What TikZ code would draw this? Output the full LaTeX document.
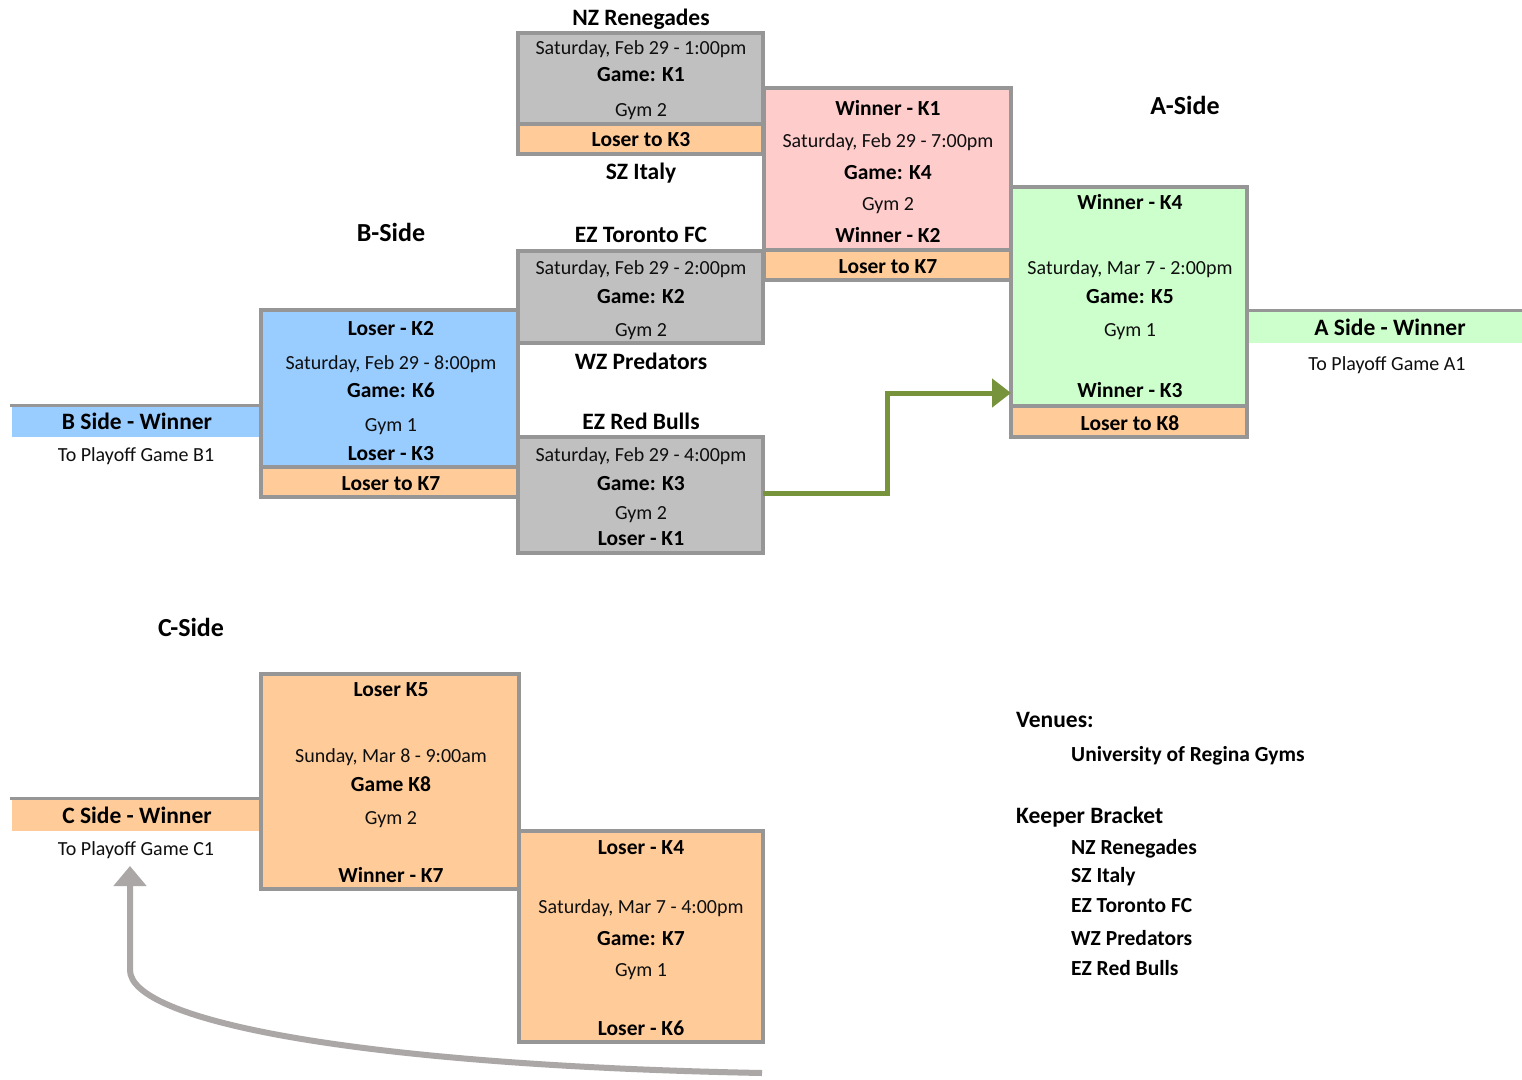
\documentclass[tikz,border=0pt]{standalone}
\usepackage{fontspec}
\setmainfont{Carlito}
\usetikzlibrary{arrows.meta}
\definecolor{bgray}{RGB}{150,150,150}
\definecolor{boxgray}{RGB}{192,192,192}
\definecolor{boxpink}{RGB}{255,204,204}
\definecolor{boxgreen}{RGB}{204,255,204}
\definecolor{boxblue}{RGB}{153,204,255}
\definecolor{boxorange}{RGB}{255,204,153}
\definecolor{arrowgreen}{RGB}{119,147,60}
\definecolor{arrowgray}{RGB}{171,167,167}
\definecolor{txt}{RGB}{15,15,15}
\tikzset{
  box/.style={draw=bgray, line width=3.5pt, anchor=north west, inner sep=0pt, outer sep=0pt},
  strip/.style={anchor=north west, inner sep=0pt, outer sep=0pt},
  sepline/.style={draw=bgray, line width=3.5pt},
  tx/.style={inner sep=0pt, text height=0.66em, text depth=0pt, yshift=-4pt},
  rg/.style={tx, font=\fontsize{20}{22}\selectfont, text=txt},
  bd/.style={tx, font=\fontsize{21.5}{24}\selectfont\bfseries, text=black},
  ttl/.style={tx, font=\fontsize{23.5}{26}\selectfont\bfseries, text=black},
  sidelbl/.style={tx, font=\fontsize{26}{30}\selectfont\bfseries, text=black},
  greenarrow/.style={draw=arrowgreen, line width=5pt, -{Triangle[length=19pt,width=28pt]}},
  grayarrow/.style={draw=arrowgray, line width=6pt, -{Triangle[length=20pt,width=32pt]}},
}
\begin{document}
\begin{tikzpicture}[x=1pt,y=-1pt]
\useasboundingbox[fill=white] (0,0) rectangle (1522,1079);

% ---- winner strips ----
\node[strip, fill=boxblue, minimum width=247pt, minimum height=30pt] (bwin) at (12,407) {};
\node[strip, fill=boxgreen, minimum width=273pt, minimum height=31pt] (awin) at (1249,312) {};
\node[strip, fill=boxorange, minimum width=247pt, minimum height=31pt] (cwin) at (12,800) {};

% ---- boxes ----
\node[box, fill=boxgray, minimum width=245pt, minimum height=91pt] (k1) at (518,33) {};
\node[box, fill=boxorange, minimum width=245pt, minimum height=30pt] (k1l) at (518,124) {};
\node[box, fill=boxpink, minimum width=247pt, minimum height=162pt] (k4) at (764,88) {};
\node[box, fill=boxorange, minimum width=247pt, minimum height=30pt] (k4l) at (764,250) {};
\node[box, fill=boxgray, minimum width=245pt, minimum height=92pt] (k2) at (518,251) {};
\node[box, fill=boxblue, minimum width=257pt, minimum height=157pt] (k6) at (261,310) {};
\node[box, fill=boxorange, minimum width=257pt, minimum height=30pt] (k6l) at (261,467) {};
\node[box, fill=boxgray, minimum width=245pt, minimum height=116pt] (k3) at (518,437) {};
\node[box, fill=boxgreen, minimum width=236pt, minimum height=219pt] (k5) at (1011,187) {};
\node[box, fill=boxorange, minimum width=236pt, minimum height=31pt] (k5l) at (1011,406) {};
\node[box, fill=boxorange, minimum width=258pt, minimum height=215pt] (k8) at (261,674) {};
\node[box, fill=boxorange, minimum width=244pt, minimum height=211pt] (k7) at (519,831) {};

% ---- strip top lines ----
\draw[sepline] ([xshift=-2pt,yshift=1.5pt]bwin.north west) -- ([yshift=1.5pt]bwin.north east -| k6.west);
\draw[sepline] ([yshift=1.5pt]awin.north west -| k5.east) -- ([yshift=1.5pt]awin.north east);
\draw[sepline] ([xshift=-2pt,yshift=1.5pt]cwin.north west) -- ([yshift=1.5pt]cwin.north east -| k8.west);

% ---- headings ----
\node[sidelbl] (aside) at (1185,107) {A-Side};
\node[sidelbl] (bside) at (391,234) {B-Side};
\node[sidelbl] (cside) at (191,629) {C-Side};
\node[ttl] (team1) at (641,18) {NZ Renegades};
\node[ttl] (team2) at (641,172) {SZ Italy};
\node[ttl] (team3) at (641,235) {EZ Toronto FC};
\node[ttl] (team4) at (641,362) {WZ Predators};
\node[ttl] (team5) at (641,422) {EZ Red Bulls};

% ---- K1 ----
\node[rg] (k1a) at (641,47) {Saturday, Feb 29 - 1:00pm};
\node[bd] (k1b) at (641,74) {Game: K1};
\node[rg] (k1c) at (641,109) {Gym 2};
\node[bd] (k1d) at (641,139) {Loser to K3};
% ---- K4 ----
\node[bd] (k4a) at (888,108) {Winner - K1};
\node[rg] (k4b) at (888,140) {Saturday, Feb 29 - 7:00pm};
\node[bd] (k4c) at (888,172) {Game: K4};
\node[rg] (k4d) at (888,203) {Gym 2};
\node[bd] (k4e) at (888,235) {Winner - K2};
\node[bd] (k4f) at (888,266) {Loser to K7};
% ---- K2 ----
\node[rg] (k2a) at (641,267) {Saturday, Feb 29 - 2:00pm};
\node[bd] (k2b) at (641,296) {Game: K2};
\node[rg] (k2c) at (641,329) {Gym 2};
% ---- K6 ----
\node[bd] (k6a) at (391,328) {Loser - K2};
\node[rg] (k6b) at (391,362) {Saturday, Feb 29 - 8:00pm};
\node[bd] (k6c) at (391,390) {Game: K6};
\node[rg] (k6d) at (391,424) {Gym 1};
\node[bd] (k6e) at (391,453) {Loser - K3};
\node[bd] (k6f) at (391,483) {Loser to K7};
% ---- B side ----
\node[ttl] (bw1) at (137,422) {B Side - Winner};
\node[rg] (bw2) at (136,454) {To Playoff Game B1};
% ---- K3 ----
\node[rg] (k3a) at (641,454) {Saturday, Feb 29 - 4:00pm};
\node[bd] (k3b) at (641,483) {Game: K3};
\node[rg] (k3c) at (641,512) {Gym 2};
\node[bd] (k3d) at (641,538) {Loser - K1};
% ---- K5 ----
\node[bd] (k5a) at (1130,202) {Winner - K4};
\node[rg] (k5b) at (1130,267) {Saturday, Mar 7 - 2:00pm};
\node[bd] (k5c) at (1130,296) {Game: K5};
\node[rg] (k5d) at (1130,329) {Gym 1};
\node[bd] (k5e) at (1130,390) {Winner - K3};
\node[bd] (k5f) at (1130,423) {Loser to K8};
% ---- A side ----
\node[ttl] (aw1) at (1390,328) {A Side - Winner};
\node[rg] (aw2) at (1387,363) {To Playoff Game A1};
% ---- K8 ----
\node[bd] (k8a) at (391,689) {Loser K5};
\node[rg] (k8b) at (391,755) {Sunday, Mar 8 - 9:00am};
\node[bd] (k8c) at (391,784) {Game K8};
\node[rg] (k8d) at (391,817) {Gym 2};
\node[bd] (k8e) at (391,875) {Winner - K7};
% ---- C side ----
\node[ttl] (cw1) at (137,816) {C Side - Winner};
\node[rg] (cw2) at (136,848) {To Playoff Game C1};
% ---- K7 ----
\node[bd] (k7a) at (641,847) {Loser - K4};
\node[rg] (k7b) at (641,906) {Saturday, Mar 7 - 4:00pm};
\node[bd] (k7c) at (641,938) {Game: K7};
\node[rg] (k7d) at (641,969) {Gym 1};
\node[bd] (k7e) at (641,1028) {Loser - K6};

% ---- venues ----
\node[ttl, anchor=west] (ven) at (1016,720) {Venues:};
\node[bd, anchor=west] (ven1) at (1071,754) {University of Regina Gyms};
\node[ttl, anchor=west] (kb) at (1016,816) {Keeper Bracket};
\node[bd, anchor=west] (kb1) at (1071,847) {NZ Renegades};
\node[bd, anchor=west] (kb2) at (1071,875) {SZ Italy};
\node[bd, anchor=west] (kb3) at (1071,905) {EZ Toronto FC};
\node[bd, anchor=west] (kb4) at (1071,938) {WZ Predators};
\node[bd, anchor=west] (kb5) at (1071,968) {EZ Red Bulls};

% ---- connectors ----
\coordinate (k5in) at (1011,393);
\draw[greenarrow] (k3.east) ++(0,-2) -- ++(124,0) |- (k5in);
\coordinate (cstart) at (762,1073);
\coordinate (ctip) at (130,866);
\draw[grayarrow] (cstart) .. controls (350,1065) and (130,1020) .. (130,970) -- (ctip);
\end{tikzpicture}
\end{document}
